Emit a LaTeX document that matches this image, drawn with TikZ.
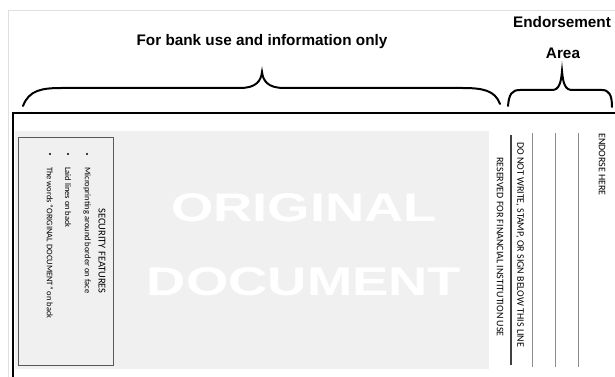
\documentclass[tikz,border=0pt]{standalone}
\usepackage{fontspec}
\setmainfont{Carlito}
\newfontfamily\headfont{Liberation Sans}
\usetikzlibrary{positioning}

\begin{document}
\begin{tikzpicture}[x=1pt,y=1pt,
    vtext/.style={rotate=-90, anchor=west, inner sep=0pt, font=\fontsize{10}{12}\selectfont},
    itemtext/.style={rotate=-90, anchor=west, inner sep=0pt, font=\fontsize{8.5}{10}\selectfont},
    headtext/.style={inner sep=0pt, font=\headfont\bfseries\fontsize{15.3}{18}\selectfont},
    stamptext/.style={text=white, inner sep=0pt, xscale=1.36, font=\headfont\bfseries\fontsize{40}{44}\selectfont},
    dot/.style={circle, fill=black, inner sep=0pt, minimum size=2.2pt}]
    \useasboundingbox (0,0) rectangle (615,377);

    % Faint outer frame
    \draw[gray!25, line width=0.8pt] (8,0) -- (8,367) -- (615,367);

    % Shaded face and main frame
    \fill[black!6] (15,8) rectangle (489,246);
    \draw[line width=2pt] (13,0) -- (13,264) -- (615,264);

    % Watermark
    \node[stamptext] (orig) at (304,169) {ORIGINAL};
    \node[stamptext] (doc) at (304,95) {DOCUMENT};

    % Security features box
    \draw[black!65, line width=0.8pt] (18,12) rectangle (113,240);
    \node[vtext, font=\fontsize{10.5}{12}\selectfont] (sectitle) at (102,169) {SECURITY FEATURES};
    \node[dot] (b1) at (87,223) {};
    \node[dot] (b2) at (68,223) {};
    \node[dot] (b3) at (50,223) {};
    \node[itemtext] (i1) at (87,210) {Microprinting around border on face};
    \node[itemtext] (i2) at (68,210) {Laid lines on back};
    \node[itemtext] (i3) at (50,210) {The words ``ORIGINAL DOCUMENT'' on back};

    % Endorsement side
    \node[vtext] (reserved) at (500,220) {RESERVED FOR FINANCIAL INSTITUTION USE};
    \draw[black!75, line width=1.6pt] (511,242) -- (511,12);
    \node[vtext] (donot) at (520,235) {DO NOT WRITE, STAMP, OR SIGN BELOW THIS LINE};
    \foreach \x in {532,555,578} { \draw[black!45, line width=0.7pt] (\x,244) -- (\x,10); }
    \node[vtext] (endorse) at (602,244) {ENDORSE HERE};

    % Headings
    \node[headtext] (bank) at (262,335) {For bank use and information only};
    \node[headtext] (endo) at (562,355) {Endorsement};
    \node[headtext] (area) at (563,324) {Area};

    % Braces
    \draw[line width=2pt, line cap=round] (23,271) .. controls (29,287) and (42,289) .. (62,289)
        -- (240,289) .. controls (256,289) and (261,296) .. (262,305)
        .. controls (263,296) and (268,289) .. (284,289)
        -- (462,289) .. controls (482,289) and (495,287) .. (500,273);
    \draw[line width=2pt, line cap=round] (508,271) .. controls (509,283) and (512,287) .. (520,287)
        -- (552,287) .. controls (559,287) and (561,294) .. (562,306)
        .. controls (563,294) and (565,287) .. (572,287)
        -- (602,287) .. controls (609,287) and (612,282) .. (612,270);

\end{tikzpicture}
\end{document}
